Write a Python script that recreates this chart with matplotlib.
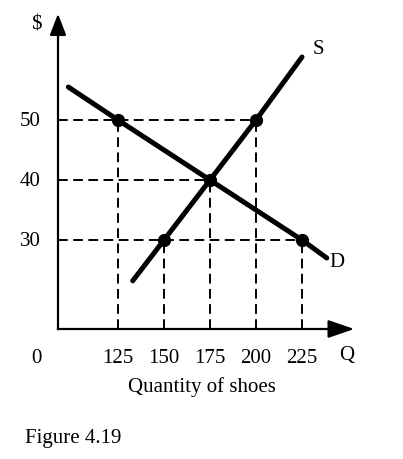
import matplotlib
matplotlib.use("Agg")
import matplotlib.pyplot as plt

plt.rcParams['font.family'] = ['Liberation Serif', 'DejaVu Serif']

# Data
supply_q = [133, 150, 175, 200, 225]
supply_p = [23.2, 30, 40, 50, 60.5]
demand_q = [98, 125, 175, 225, 238.5]
demand_p = [55.5, 50, 40, 30, 27]
point_q = [125, 200, 175, 150, 225]
point_p = [50, 50, 40, 30, 30]
x_ticks = [125, 150, 175, 200, 225]
y_ticks = [50, 40, 30]

fig = plt.figure(figsize=(4.03, 4.60), dpi=100)
ax = fig.add_axes([58/403, 1-330/460, 299/403, 318/460])
xmin, xmax = 92.39, 254.9
ymin, ymax = 15.17, 68.17
ax.set_xlim(xmin, xmax)
ax.set_ylim(ymin, ymax)
ax.axis('off')

# dashed guide lines
dash = dict(color='black', lw=1.4, ls=(0, (5, 2.8)))
for q, p in zip(point_q, point_p):
    ax.plot([q, q], [ymin, p], **dash)
for p in y_ticks:
    qmax = max(q for q, pp in zip(point_q, point_p) if pp == p)
    ax.plot([xmin, qmax], [p, p], **dash)

# axes lines with arrows
ax.plot([xmin, xmin], [ymin, ymax - 2.5], color='black', lw=1.6, clip_on=False)
ax.plot([xmin, xmax - 10], [ymin, ymin], color='black', lw=1.6, clip_on=False)
ax.annotate('', xy=(xmin, ymax), xytext=(xmin, ymax - 3.2),
            arrowprops=dict(arrowstyle='-|>,head_length=1.3,head_width=0.5',
                            color='black', lw=1.6), annotation_clip=False)
ax.annotate('', xy=(xmax, ymin), xytext=(xmax - 12, ymin),
            arrowprops=dict(arrowstyle='-|>,head_length=1.6,head_width=0.55',
                            color='black', lw=1.6), annotation_clip=False)

# supply and demand
ax.plot(supply_q, supply_p, color='black', lw=3.6, solid_capstyle='round')
ax.plot(demand_q, demand_p, color='black', lw=3.6, solid_capstyle='round')
ax.plot(point_q, point_p, 'o', color='black', ms=8.5)

fs = 15
for q in x_ticks:
    ax.text(q, 30 - (358-241)/6, str(q), ha='center', va='center', fontsize=fs)
for p in y_ticks:
    ax.text(125 - (118-30)/1.84, p, str(p), ha='center', va='center', fontsize=fs)
ax.text(125 - (118-36)/1.84, 30 - (358-241)/6, '0', ha='center', va='center', fontsize=fs)
ax.text(125 - (118-36)/1.84, 50 + (121-25)/6, '$', ha='center', va='center', fontsize=fs)
ax.text(125 + (347-118)/1.84, 30 - (355-241)/6, 'Q', ha='center', va='center', fontsize=fs)
ax.text(125 + (318-118)/1.84, 50 + (121-49)/6, 'S', ha='center', va='center', fontsize=fs)
ax.text(125 + (337-118)/1.84, 30 - (262-241)/6, 'D', ha='center', va='center', fontsize=fs)

fig.text(202/403, 1-387/460, 'Quantity of shoes', ha='center', va='center', fontsize=fs)
fig.text(25/403, 1-438/460, 'Figure 4.19', ha='left', va='center', fontsize=fs)

fig.savefig('out.png', dpi=100)
